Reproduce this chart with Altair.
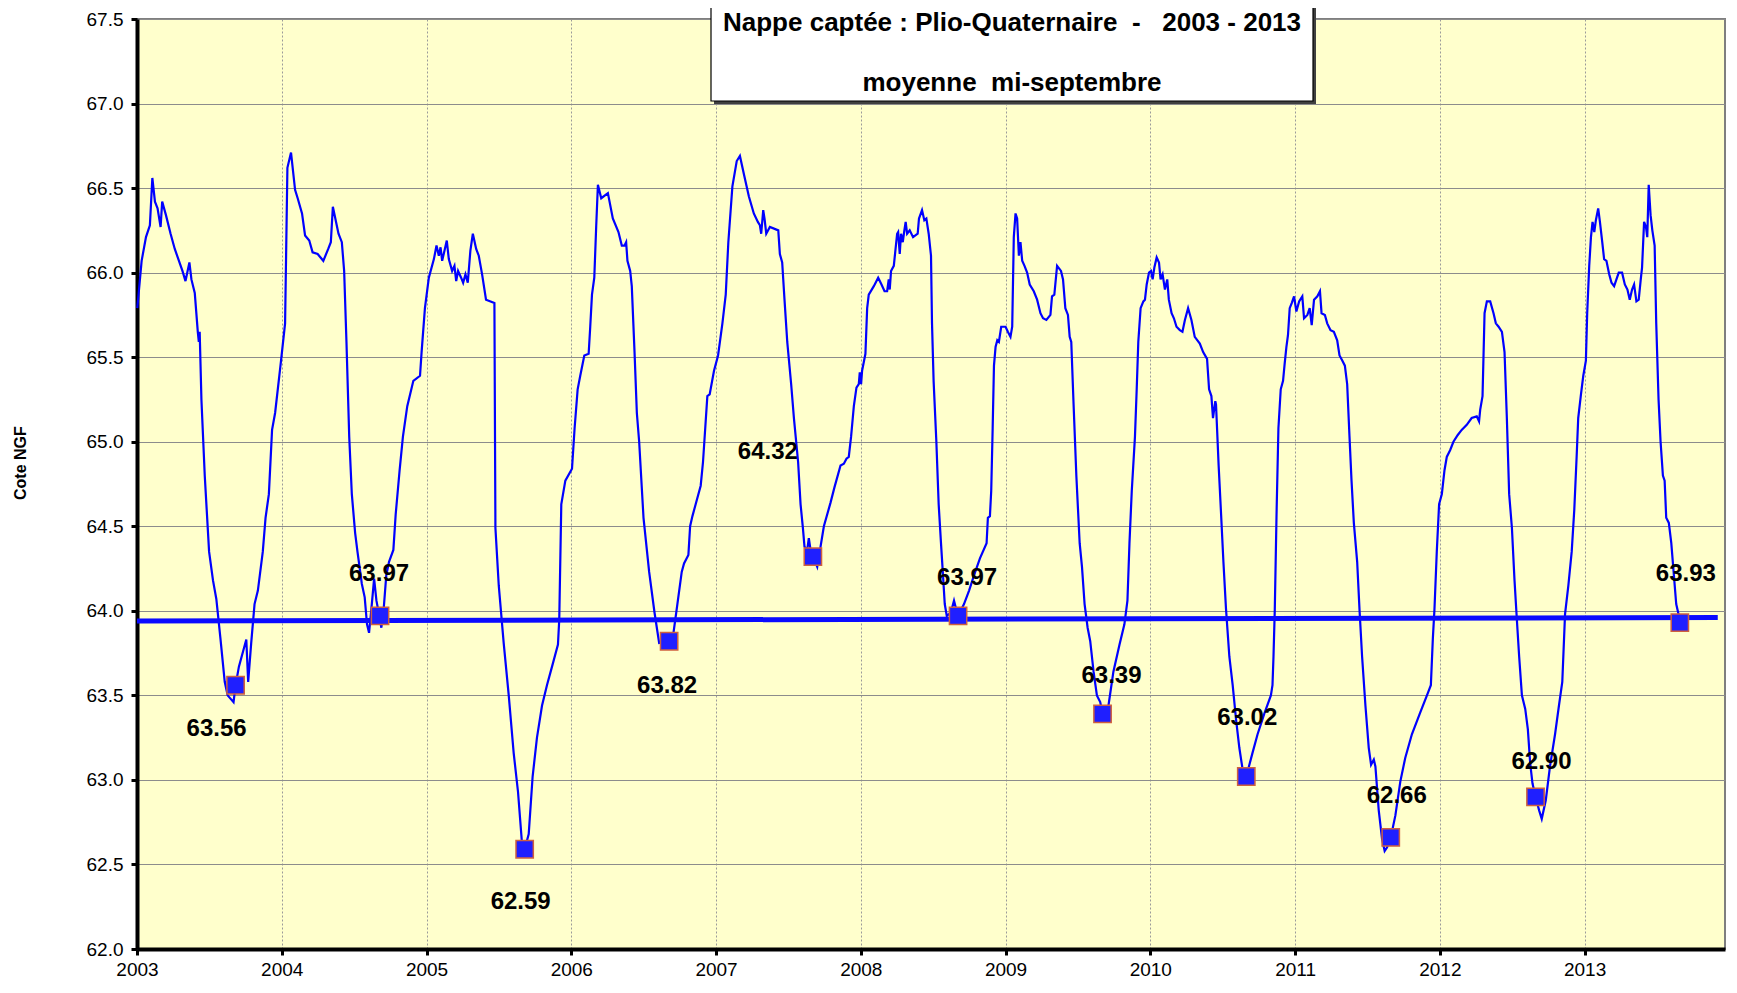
import altair as alt
import pandas as pd

# ---- data ---------------------------------------------------------------
years = [
    2003.002, 2003.032, 2003.062, 2003.089, 2003.106, 2003.124, 2003.142, 2003.163, 2003.174, 2003.200,
    2003.232, 2003.261, 2003.314, 2003.335, 2003.362, 2003.376, 2003.399, 2003.420, 2003.427, 2003.433,
    2003.445, 2003.468, 2003.498, 2003.525, 2003.548, 2003.576, 2003.606, 2003.626, 2003.667, 2003.681,
    2003.704, 2003.755, 2003.768, 2003.789, 2003.812, 2003.835, 2003.869, 2003.888, 2003.911, 2003.933,
    2003.954, 2003.995, 2004.023, 2004.039, 2004.064, 2004.092, 2004.110, 2004.140, 2004.161, 2004.190,
    2004.213, 2004.248, 2004.287, 2004.321, 2004.339, 2004.353, 2004.392, 2004.415, 2004.431, 2004.447,
    2004.466, 2004.484, 2004.507, 2004.523, 2004.553, 2004.573, 2004.589, 2004.603, 2004.619, 2004.638,
    2004.654, 2004.672, 2004.688, 2004.704, 2004.722, 2004.741, 2004.771, 2004.787, 2004.814, 2004.837,
    2004.867,
    2004.909, 2004.955, 2004.966, 2004.989, 2005.016, 2005.051, 2005.069, 2005.085, 2005.097, 2005.108,
    2005.124, 2005.140, 2005.154, 2005.177, 2005.193, 2005.205, 2005.218, 2005.239, 2005.253, 2005.269,
    2005.285, 2005.303, 2005.320, 2005.343, 2005.361, 2005.384, 2005.411, 2005.469, 2005.476, 2005.499,
    2005.533, 2005.568, 2005.602, 2005.632, 2005.660, 2005.678, 2005.706, 2005.733, 2005.763, 2005.798,
    2005.832, 2005.867, 2005.908, 2005.917, 2005.931, 2005.959, 2006.005, 2006.023, 2006.044, 2006.062,
    2006.090, 2006.120, 2006.131, 2006.143, 2006.159, 2006.172, 2006.184, 2006.207, 2006.253, 2006.287,
    2006.326, 2006.349, 2006.368, 2006.379, 2006.388, 2006.407, 2006.418, 2006.437, 2006.453, 2006.469,
    2006.499, 2006.538, 2006.575, 2006.607, 2006.676,
    2006.706, 2006.733, 2006.763, 2006.779, 2006.809, 2006.821, 2006.837, 2006.894, 2006.910, 2006.940,
    2006.956, 2006.986, 2007.014, 2007.044, 2007.067, 2007.085, 2007.113, 2007.143, 2007.165, 2007.193,
    2007.227, 2007.261, 2007.289, 2007.303, 2007.312, 2007.326, 2007.335, 2007.347, 2007.372, 2007.430,
    2007.441, 2007.457, 2007.473, 2007.492, 2007.519, 2007.538, 2007.567, 2007.584, 2007.600, 2007.611,
    2007.630, 2007.641, 2007.653, 2007.669, 2007.699, 2007.722, 2007.745, 2007.791, 2007.818, 2007.860,
    2007.883, 2007.901, 2007.917, 2007.933, 2007.952, 2007.970, 2007.986, 2007.993, 2008.002, 2008.009,
    2008.032, 2008.044, 2008.055, 2008.090, 2008.120, 2008.143, 2008.164, 2008.182, 2008.193, 2008.200,
    2008.209, 2008.228, 2008.251, 2008.258, 2008.269, 2008.278, 2008.290, 2008.301, 2008.310, 2008.320,
    2008.338, 2008.361, 2008.393, 2008.402, 2008.423, 2008.439, 2008.453, 2008.469, 2008.485, 2008.492,
    2008.503, 2008.522, 2008.538, 2008.554, 2008.568,
    2008.580, 2008.594, 2008.622, 2008.644, 2008.656, 2008.672, 2008.713, 2008.748, 2008.782, 2008.823,
    2008.869, 2008.878, 2008.892, 2008.901, 2008.911, 2008.920, 2008.931, 2008.943, 2008.954, 2008.970,
    2009.000, 2009.016, 2009.034, 2009.046, 2009.057, 2009.069, 2009.080, 2009.092, 2009.103, 2009.115,
    2009.131, 2009.149, 2009.167, 2009.195, 2009.218, 2009.241, 2009.259, 2009.282, 2009.310, 2009.321,
    2009.337, 2009.356, 2009.383, 2009.397, 2009.413, 2009.431, 2009.443, 2009.454, 2009.470, 2009.489,
    2009.512, 2009.528, 2009.546, 2009.567, 2009.585, 2009.608, 2009.631, 2009.654, 2009.670, 2009.711,
    2009.745, 2009.787, 2009.821, 2009.842, 2009.856, 2009.872, 2009.894, 2009.906, 2009.917, 2009.933,
    2009.952, 2009.963, 2009.975, 2009.991, 2010.005, 2010.016, 2010.028, 2010.044, 2010.060, 2010.071,
    2010.085, 2010.101, 2010.117, 2010.128, 2010.147, 2010.163, 2010.181, 2010.204, 2010.222, 2010.239,
    2010.261, 2010.284, 2010.307, 2010.342, 2010.365, 2010.392, 2010.406, 2010.422, 2010.433, 2010.449,
    2010.454, 2010.472, 2010.489, 2010.505, 2010.523, 2010.546, 2010.569, 2010.592, 2010.615, 2010.638,
    2010.663, 2010.706, 2010.741, 2010.787, 2010.833, 2010.844, 2010.851, 2010.860, 2010.872, 2010.885,
    2010.901, 2010.917, 2010.928, 2010.940, 2010.951, 2010.963, 2010.977, 2010.993, 2011.009, 2011.028,
    2011.050, 2011.062, 2011.085, 2011.101, 2011.115, 2011.131, 2011.154, 2011.172, 2011.183, 2011.206,
    2011.222, 2011.245, 2011.268, 2011.291, 2011.307, 2011.326, 2011.344, 2011.360, 2011.376, 2011.390,
    2011.406, 2011.429, 2011.445, 2011.463, 2011.486, 2011.509, 2011.525, 2011.544, 2011.555, 2011.578,
    2011.601, 2011.619, 2011.635, 2011.661, 2011.693, 2011.727, 2011.761, 2011.807, 2011.865, 2011.911,
    2011.938, 2011.952, 2011.963, 2011.979, 2011.995, 2012.014, 2012.032, 2012.048, 2012.071, 2012.094,
    2012.124, 2012.151, 2012.186, 2012.220, 2012.255, 2012.271,
    2012.279, 2012.295, 2012.309, 2012.325, 2012.348, 2012.371, 2012.387, 2012.406, 2012.429, 2012.447,
    2012.463, 2012.479, 2012.498, 2012.516, 2012.532, 2012.548, 2012.567, 2012.590, 2012.608, 2012.624,
    2012.640, 2012.661, 2012.686, 2012.704, 2012.732, 2012.761, 2012.796, 2012.823, 2012.846, 2012.865,
    2012.888, 2012.911, 2012.929, 2012.945, 2012.956, 2012.975, 2012.991, 2013.009, 2013.018, 2013.032,
    2013.044, 2013.055, 2013.067, 2013.078, 2013.094, 2013.106, 2013.122, 2013.135, 2013.151, 2013.170,
    2013.186, 2013.204, 2013.220, 2013.236, 2013.259, 2013.278, 2013.296, 2013.312, 2013.328, 2013.342,
    2013.358, 2013.374, 2013.388, 2013.397, 2013.411, 2013.424, 2013.433, 2013.443, 2013.456, 2013.468,
    2013.484, 2013.495, 2013.511, 2013.525, 2013.541, 2013.553, 2013.564, 2013.582, 2013.599, 2013.615,
    2013.633, 2013.649, 2013.658,
]

levels = [
    65.79, 66.07, 66.21, 66.28, 66.56, 66.42, 66.38, 66.27, 66.42, 66.34,
    66.23, 66.14, 66.01, 65.95, 66.06, 65.96, 65.88, 65.65, 65.59, 65.65,
    65.25, 64.80, 64.35, 64.18, 64.07, 63.84, 63.58, 63.50, 63.46, 63.56,
    63.67, 63.83, 63.58, 63.81, 64.04, 64.12, 64.35, 64.55, 64.69, 65.07,
    65.17, 65.48, 65.70, 66.62, 66.71, 66.49, 66.44, 66.35, 66.22, 66.19,
    66.12, 66.11, 66.07, 66.14, 66.18, 66.39, 66.23, 66.18, 66.01, 65.59,
    65.03, 64.69, 64.46, 64.35, 64.16, 64.08, 63.92, 63.87, 64.01, 64.19,
    64.06, 63.98, 63.90, 64.01, 64.21, 64.29, 64.36, 64.57, 64.83, 65.03,
    65.21,
    65.36, 65.39, 65.53, 65.79, 65.97, 66.08, 66.16, 66.10, 66.15, 66.07,
    66.13, 66.19, 66.08, 66.01, 66.04, 65.95, 66.01, 65.97, 65.94, 65.99,
    65.94, 66.13, 66.23, 66.14, 66.10, 65.99, 65.84, 65.82, 64.49, 64.15,
    63.81, 63.50, 63.16, 62.93, 62.62, 62.59, 62.68, 63.02, 63.25, 63.44,
    63.56, 63.67, 63.80, 63.95, 64.63, 64.77, 64.84, 65.08, 65.31, 65.39,
    65.51, 65.52, 65.68, 65.87, 65.97, 66.27, 66.52, 66.44, 66.47, 66.32,
    66.24, 66.16, 66.16, 66.18, 66.07, 66.01, 65.92, 65.53, 65.17, 65.00,
    64.55, 64.23, 63.99, 63.81, 63.82,
    63.87, 64.04, 64.23, 64.28, 64.33, 64.50, 64.56, 64.74, 64.88, 65.27,
    65.28, 65.42, 65.51, 65.70, 65.87, 66.18, 66.51, 66.66, 66.69, 66.58,
    66.45, 66.35, 66.30, 66.28, 66.23, 66.37, 66.32, 66.23, 66.27, 66.25,
    66.11, 66.06, 65.84, 65.59, 65.34, 65.14, 64.88, 64.63, 64.49, 64.38,
    64.36, 64.43, 64.36, 64.32, 64.26, 64.38, 64.50, 64.64, 64.73, 64.86,
    64.87, 64.90, 64.91, 65.03, 65.21, 65.32, 65.34, 65.41, 65.34, 65.42,
    65.52, 65.79, 65.87, 65.92, 65.97, 65.93, 65.89, 65.89, 65.96, 65.90,
    66.01, 66.04, 66.23, 66.24, 66.11, 66.23, 66.18, 66.25, 66.30, 66.23,
    66.25, 66.21, 66.23, 66.32, 66.37, 66.31, 66.32, 66.23, 66.10, 65.70,
    65.36, 65.00, 64.63, 64.40, 64.21,
    64.04, 63.97, 63.99, 64.06, 64.02, 63.97, 64.04, 64.12, 64.21, 64.31,
    64.40, 64.55, 64.56, 64.71, 65.08, 65.45, 65.56, 65.60, 65.59, 65.68,
    65.68, 65.65, 65.62, 65.68, 66.21, 66.35, 66.32, 66.10, 66.18, 66.07,
    66.04, 66.00, 65.93, 65.89, 65.84, 65.76, 65.73, 65.72, 65.75, 65.86,
    65.87, 66.04, 66.01, 65.96, 65.79, 65.75, 65.62, 65.59, 65.22, 64.80,
    64.40, 64.26, 64.04, 63.90, 63.82, 63.64, 63.50, 63.46, 63.39, 63.44,
    63.64, 63.80, 63.92, 64.06, 64.40, 64.71, 65.03, 65.31, 65.59, 65.79,
    65.83, 65.84, 65.93, 66.00, 66.01, 65.96, 66.03, 66.09, 66.06, 65.96,
    65.99, 65.90, 65.96, 65.84, 65.76, 65.73, 65.68, 65.66, 65.65, 65.72,
    65.79, 65.72, 65.62, 65.58, 65.53, 65.49, 65.31, 65.27, 65.14, 65.24,
    65.22, 64.86, 64.57, 64.29, 64.01, 63.73, 63.56, 63.36, 63.19, 63.06,
    63.02, 63.16, 63.27, 63.39, 63.50, 63.56, 63.73, 64.01, 64.57, 65.08,
    65.31, 65.36, 65.46, 65.56, 65.63, 65.79, 65.82, 65.86, 65.77, 65.83,
    65.86, 65.73, 65.75, 65.79, 65.69, 65.84, 65.86, 65.89, 65.76, 65.75,
    65.70, 65.66, 65.65, 65.60, 65.51, 65.48, 65.45, 65.34, 65.03, 64.77,
    64.52, 64.29, 64.01, 63.73, 63.44, 63.19, 63.09, 63.12, 63.08, 62.82,
    62.65, 62.58, 62.60, 62.66, 62.79, 62.99, 63.13, 63.27, 63.40, 63.50,
    63.56, 63.84, 64.01, 64.35, 64.63, 64.69, 64.83, 64.91, 64.95, 65.00,
    65.04, 65.07, 65.10, 65.14, 65.15, 65.12,
    65.19, 65.27, 65.76, 65.83, 65.83, 65.76, 65.70, 65.68, 65.65, 65.53,
    65.14, 64.69, 64.49, 64.18, 63.95, 63.73, 63.50, 63.42, 63.30, 63.10,
    62.98, 62.90, 62.82, 62.77, 62.88, 63.08, 63.27, 63.44, 63.58, 63.98,
    64.15, 64.35, 64.60, 64.91, 65.14, 65.28, 65.39, 65.48, 65.76, 66.04,
    66.21, 66.30, 66.24, 66.31, 66.38, 66.30, 66.18, 66.08, 66.07, 65.99,
    65.94, 65.92, 65.96, 66.00, 66.00, 65.93, 65.90, 65.84, 65.90, 65.93,
    65.83, 65.84, 65.96, 66.03, 66.30, 66.27, 66.21, 66.52, 66.34, 66.25,
    66.16, 65.70, 65.25, 65.00, 64.80, 64.77, 64.55, 64.52, 64.40, 64.23,
    64.04, 63.98, 63.93,
]

sept_years = [2003.681, 2004.679, 2005.678, 2006.676, 2007.669, 2008.672,
              2009.670, 2010.663, 2011.661, 2012.661, 2013.658]
sept_levels = [63.56, 63.97, 62.59, 63.82, 64.32, 63.97, 63.39, 63.02, 62.66, 62.90, 63.93]
sept_labels = ["63.56", "63.97", "62.59", "63.82", "64.32", "63.97",
               "63.39", "63.02", "62.66", "62.90", "63.93"]

trend_years = [2003.0, 2013.92]
trend_levels = [63.94, 63.96]

x_ticks = [2003, 2004, 2005, 2006, 2007, 2008, 2009, 2010, 2011, 2012, 2013]
y_ticks = [62.0, 62.5, 63.0, 63.5, 64.0, 64.5, 65.0, 65.5, 66.0, 66.5, 67.0, 67.5]

NB = "\u00a0"
title_line1 = "Nappe captée : Plio-Quaternaire " + NB + "-" + NB + NB + " 2003 - 2013"
title_line2 = "moyenne " + NB + "mi-septembre"
y_title = "Cote NGF"

# ---- styling (pixel offsets of the value labels relative to their markers)
label_dx = [-19, -1, -4, -2, -45, 9, 9, 1, 6, 6, 6]
label_dy = [44, -42, 53, 45, -105, -38, -38, -59, -41, -35, -49]

W, H = 1588, 930
FONT = "Liberation Sans"

series = pd.DataFrame({"year": years, "level": levels})
trend = pd.DataFrame({"year": trend_years, "level": trend_levels})
sept = pd.DataFrame({"year": sept_years, "level": sept_levels, "label": sept_labels})
one = pd.DataFrame({"k": [0]})

x_scale = alt.Scale(domain=[2003, 2013.97], nice=False, zero=False)
y_scale = alt.Scale(domain=[62.0, 67.5], nice=False, zero=False)

x_enc = alt.X("year:Q", scale=x_scale,
              axis=alt.Axis(values=x_ticks, format="d", title=None, labelPadding=5,
                            labelFlush=False,
                            grid=True, gridDash=[2, 2], gridColor="#9a9a9a"))
y_enc = alt.Y("level:Q", scale=y_scale,
              axis=alt.Axis(values=y_ticks, format=".1f", title=y_title, labelPadding=8,
                            labelFlush=False,
                            grid=True, gridColor="#8c8c8c",
                            titleFont=FONT, titleFontSize=16, titleFontWeight="bold",
                            titleColor="black", titleX=-117, titleY=H * 0.477,
                            titleAngle=270, titleAlign="center", titleBaseline="middle"))

line = alt.Chart(series).mark_line(color="#0000ff", strokeWidth=2.2).encode(x=x_enc, y=y_enc)

trend_line = alt.Chart(trend).mark_line(color="#0a0aff", strokeWidth=5).encode(
    x=alt.X("year:Q", scale=x_scale), y=alt.Y("level:Q", scale=y_scale))

markers = alt.Chart(sept).mark_square(size=300, fill="#1f1fff", stroke="#d0603e",
                                      strokeWidth=1.5, opacity=1).encode(
    x=alt.X("year:Q", scale=x_scale), y=alt.Y("level:Q", scale=y_scale))

label_layers = []
for i in range(len(sept_labels)):
    d = sept.iloc[[i]]
    label_layers.append(
        alt.Chart(d).mark_text(font=FONT, fontSize=24, fontWeight="bold", color="black",
                               align="center", baseline="middle",
                               dx=label_dx[i], dy=label_dy[i]).encode(
            x=alt.X("year:Q", scale=x_scale), y=alt.Y("level:Q", scale=y_scale),
            text="label:N"))

# title box (decoration)
shadow = alt.Chart(one).mark_rect(color="#404040").encode(
    x=alt.value(577), x2=alt.value(1179), y=alt.value(-15), y2=alt.value(85))
box = alt.Chart(one).mark_rect(fill="white", stroke="black", strokeWidth=1.2).encode(
    x=alt.value(574), x2=alt.value(1176), y=alt.value(-15), y2=alt.value(82))
t1 = alt.Chart(one).mark_text(text=title_line1, font=FONT, fontSize=26, fontWeight="bold",
                              color="black", align="center", baseline="middle").encode(
    x=alt.value(875), y=alt.value(4))
t2 = alt.Chart(one).mark_text(text=title_line2, font=FONT, fontSize=26, fontWeight="bold",
                              color="black", align="center", baseline="middle").encode(
    x=alt.value(875), y=alt.value(64))

chart = alt.layer(line, trend_line, markers, *label_layers, shadow, box, t1, t2).properties(
    width=W, height=H,
    autosize=alt.AutoSizeParams(type="none"),
    padding={"left": 129, "top": 11, "right": 2, "bottom": 30},
    background="white",
).configure_view(
    fill="#FFFFCC", stroke="#7f7f7f", strokeWidth=2
).configure_axis(
    domainColor="black", domainWidth=4, tickColor="black", tickWidth=3, tickSize=6,
    labelFont=FONT, labelFontSize=19, labelColor="black", gridWidth=1,
)

chart.save("out.html", embed_options={"renderer": "svg", "actions": False})
